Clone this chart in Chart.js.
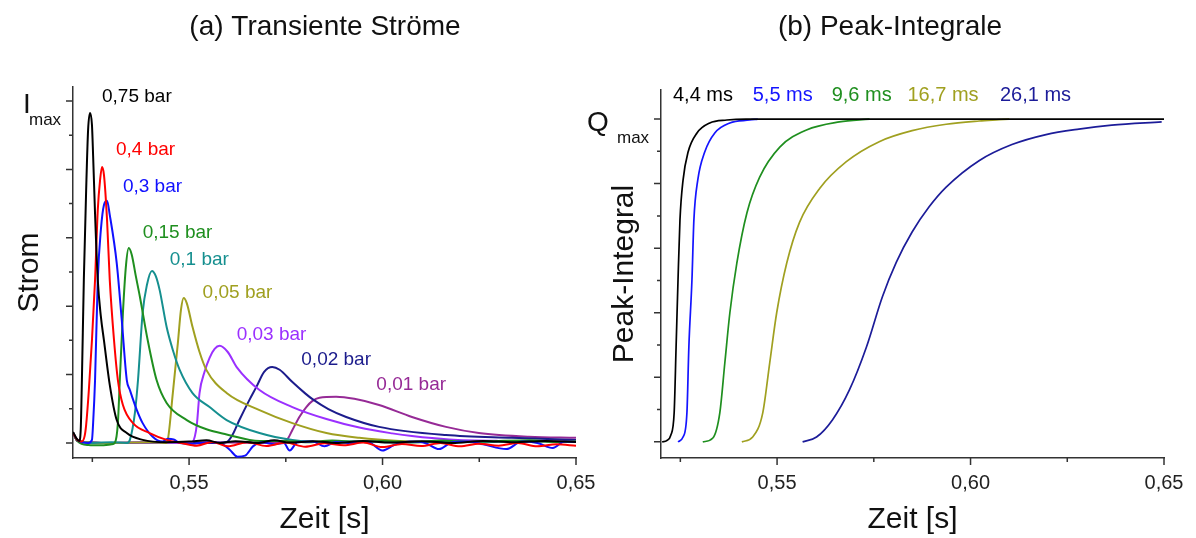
<!DOCTYPE html>
<html lang="de">
<head>
<meta charset="UTF-8">
<title>Transiente Ströme / Peak-Integrale</title>
<script src="https://cdn.jsdelivr.net/npm/chart.js"></script>
<style>
  body { margin: 0; background: #fff; }
  #wrap { position: relative; width: 1196px; height: 538px; overflow: hidden; }
  .box { position: absolute; top: 0; height: 538px; }
  #left { left: 0; width: 608px; }
  #right { left: 575px; width: 621px; }
</style>
</head>
<body>
<div id="wrap">
  <div class="box" id="left"><canvas id="stromChart"></canvas></div>
  <div class="box" id="right"><canvas id="integralChart"></canvas></div>
</div>
<script>
const FONT = '"Liberation Sans", Arial, sans-serif';

// axis ticks
const xLabelTicks = [0.55, 0.60, 0.65];
const xMinorTicks = [0.525, 0.575, 0.625];
const yMajorTicks = [0, 0.2, 0.4, 0.6, 0.8, 1.0];
const yMinorTicks = [0.1, 0.3, 0.5, 0.7, 0.9];

// (a) transient currents, [time s, I/Imax]
const i075 = [[0.5200,0.032],[0.5210,0.012],[0.5216,0.006],[0.5220,0.04],[0.5223,0.184],[0.5228,0.477],[0.5234,0.74],[0.5239,0.915],[0.5244,0.965],[0.5249,0.93],[0.5252,0.84],[0.5257,0.67],[0.5264,0.477],[0.5272,0.37],[0.5280,0.30],[0.5295,0.17],[0.5313,0.067],[0.5339,0.029],[0.5380,0.009],[0.5440,0.002],[0.5500,0.004],[0.5545,0.008],[0.5580,0.0],[0.5620,0.005],[0.5680,0.0],[0.5720,0.008],[0.5760,0.001],[0.5820,0.005],[0.5880,0.0],[0.5950,0.006],[0.6020,0.001],[0.6100,0.005],[0.6180,0.0],[0.6260,0.006],[0.6340,0.002],[0.6420,0.006],[0.6500,0.003]];
const i04 = [[0.5200,0.03],[0.5210,0.01],[0.5222,0.004],[0.5230,0.02],[0.5234,0.053],[0.5241,0.155],[0.5249,0.301],[0.5257,0.477],[0.5264,0.681],[0.5270,0.769],[0.5275,0.807],[0.5280,0.784],[0.5288,0.652],[0.5295,0.477],[0.5306,0.301],[0.5316,0.184],[0.5329,0.111],[0.5355,0.058],[0.5398,0.029],[0.5442,0.009],[0.5480,0.0],[0.5520,-0.008],[0.5560,0.003],[0.5600,-0.010],[0.5650,0.002],[0.5700,-0.009],[0.5750,0.001],[0.5800,-0.011],[0.5850,-0.001],[0.5900,-0.007],[0.5950,0.001],[0.6000,-0.012],[0.6050,-0.003],[0.6100,-0.009],[0.6150,0.0],[0.6200,-0.010],[0.6250,-0.002],[0.6300,-0.008],[0.6350,0.0],[0.6400,-0.010],[0.6450,-0.004],[0.6500,-0.008]];
const i03 = [[0.5200,0.03],[0.5210,0.01],[0.5225,0.002],[0.5240,0.0],[0.5249,0.009],[0.5252,0.058],[0.5257,0.184],[0.5264,0.477],[0.5272,0.623],[0.5280,0.696],[0.5288,0.708],[0.5295,0.667],[0.5313,0.526],[0.5326,0.36],[0.5339,0.184],[0.5347,0.155],[0.5365,0.096],[0.5380,0.058],[0.5406,0.018],[0.5430,0.004],[0.5445,0.012],[0.5460,0.010],[0.5476,0.0],[0.5510,-0.002],[0.5550,0.002],[0.5580,0.0],[0.5605,-0.02],[0.5625,-0.04],[0.5645,-0.037],[0.5665,-0.01],[0.5690,0.002],[0.5720,-0.004],[0.5745,0.0],[0.5760,-0.022],[0.5780,0.002],[0.5820,0.004],[0.5850,-0.010],[0.5880,0.003],[0.5920,0.0],[0.5960,0.004],[0.6000,-0.022],[0.6030,-0.006],[0.6070,0.004],[0.6110,0.0],[0.6146,-0.018],[0.6180,0.002],[0.6220,0.004],[0.6260,-0.004],[0.6320,-0.018],[0.6360,0.004],[0.6400,0.0],[0.6440,-0.015],[0.6470,0.004],[0.6500,0.003]];
const i015 = [[0.5200,0.03],[0.5212,0.005],[0.5240,-0.006],[0.5270,-0.007],[0.5300,-0.004],[0.5308,0.0],[0.5316,0.058],[0.5321,0.184],[0.5329,0.38],[0.5337,0.52],[0.5344,0.57],[0.5352,0.55],[0.5362,0.49],[0.5373,0.427],[0.5393,0.301],[0.5416,0.184],[0.5442,0.117],[0.5494,0.067],[0.5545,0.04],[0.5597,0.025],[0.5682,0.006],[0.5750,0.006],[0.5800,0.002],[0.5870,0.007],[0.5940,0.003],[0.6000,0.006],[0.6080,0.002],[0.6150,0.007],[0.6230,0.003],[0.6300,0.006],[0.6380,0.008],[0.6450,0.003],[0.6500,0.005]];
const i01 = [[0.5200,0.03],[0.5212,0.006],[0.5250,0.0],[0.5300,0.002],[0.5340,0.0],[0.5347,0.009],[0.5360,0.088],[0.5368,0.184],[0.5380,0.38],[0.5391,0.462],[0.5404,0.503],[0.5414,0.488],[0.5424,0.447],[0.5442,0.339],[0.5458,0.272],[0.5476,0.213],[0.5509,0.146],[0.5553,0.105],[0.5597,0.067],[0.5682,0.029],[0.5767,0.009],[0.5860,0.003],[0.5950,0.005],[0.6050,0.001],[0.6150,0.005],[0.6250,0.002],[0.6350,0.005],[0.6500,0.003]];
const i005 = [[0.5200,0.03],[0.5212,0.006],[0.5300,0.0],[0.5400,0.002],[0.5440,0.0],[0.5445,0.009],[0.5458,0.146],[0.5471,0.292],[0.5479,0.389],[0.5486,0.424],[0.5494,0.409],[0.5509,0.339],[0.5527,0.266],[0.5545,0.213],[0.5597,0.146],[0.5682,0.096],[0.5767,0.058],[0.5855,0.029],[0.5940,0.015],[0.6043,0.006],[0.6146,0.003],[0.6300,0.004],[0.6500,0.003]];
const i003 = [[0.5200,0.028],[0.5212,0.006],[0.5300,0.0],[0.5400,0.002],[0.5500,0.0],[0.5509,0.003],[0.5520,0.053],[0.5527,0.146],[0.5540,0.208],[0.5553,0.249],[0.5566,0.275],[0.5579,0.284],[0.5600,0.266],[0.5623,0.222],[0.5682,0.155],[0.5767,0.105],[0.5855,0.07],[0.5940,0.045],[0.6025,0.028],[0.6076,0.02],[0.6172,0.01],[0.6300,0.006],[0.6500,0.005]];
const i002 = [[0.5200,0.03],[0.5212,0.006],[0.5300,0.0],[0.5450,0.002],[0.5550,0.0],[0.5597,0.003],[0.5612,0.023],[0.5630,0.067],[0.5656,0.126],[0.5674,0.164],[0.5694,0.208],[0.5715,0.222],[0.5734,0.214],[0.5767,0.178],[0.5800,0.145],[0.5819,0.128],[0.5860,0.099],[0.5906,0.076],[0.5991,0.047],[0.6164,0.023],[0.6334,0.015],[0.6500,0.009]];
const i001 = [[0.5200,0.03],[0.5212,0.006],[0.5300,0.0],[0.5500,0.002],[0.5700,0.0],[0.5752,0.009],[0.5767,0.038],[0.5785,0.076],[0.5803,0.105],[0.5819,0.123],[0.5837,0.132],[0.5880,0.135],[0.5927,0.129],[0.5991,0.111],[0.6076,0.076],[0.6164,0.047],[0.6249,0.029],[0.6378,0.018],[0.6500,0.015]];

const pressureLabels = ['0,75 bar', '0,4 bar', '0,3 bar', '0,15 bar', '0,1 bar', '0,05 bar', '0,03 bar', '0,02 bar', '0,01 bar'];
const pressureColors = ['#000000', '#ff0000', '#1010ff', '#1f8f1f', '#158f8f', '#a0a020', '#9b30ff', '#1c1c8c', '#962a96'];
const pressureLabelX = [0.5275, 0.5311, 0.5329, 0.5380, 0.5450, 0.5535, 0.5623, 0.5790, 0.5984];
const pressureLabelY = [1.012, 0.857, 0.749, 0.614, 0.535, 0.439, 0.316, 0.243, 0.170];

// (b) peak integrals, [time s, Q/Qmax]
const q44 = [[0.5203,0.0],[0.5215,0.004],[0.5225,0.02],[0.5234,0.09],[0.5239,0.294],[0.5244,0.502],[0.5249,0.687],[0.5257,0.811],[0.5270,0.898],[0.5293,0.957],[0.5326,0.988],[0.5370,0.997],[0.5420,1.0],[0.6500,1.0]];
const q55 = [[0.5244,0.0],[0.5257,0.015],[0.5267,0.09],[0.5272,0.294],[0.5280,0.502],[0.5285,0.687],[0.5295,0.811],[0.5313,0.898],[0.5339,0.957],[0.5378,0.988],[0.5429,0.997],[0.5450,1.0]];
const q96 = [[0.5308,0.0],[0.5334,0.012],[0.5352,0.09],[0.5365,0.245],[0.5378,0.4],[0.5396,0.554],[0.5422,0.709],[0.5455,0.82],[0.5507,0.913],[0.5576,0.966],[0.5661,0.991],[0.5739,1.0]];
const q167 = [[0.5409,0.0],[0.5437,0.015],[0.5463,0.09],[0.5481,0.245],[0.5499,0.4],[0.5525,0.554],[0.5558,0.68],[0.5610,0.785],[0.5679,0.868],[0.5764,0.93],[0.5849,0.964],[0.5937,0.984],[0.6022,0.994],[0.6074,0.998],[0.6100,1.0]];
const q261 = [[0.5566,0.0],[0.5602,0.015],[0.5643,0.068],[0.5687,0.161],[0.5731,0.294],[0.5772,0.449],[0.5808,0.556],[0.5849,0.65],[0.5893,0.728],[0.5937,0.789],[0.6022,0.871],[0.6107,0.921],[0.6195,0.952],[0.6280,0.969],[0.6365,0.981],[0.6494,0.991]];

const timeLabels = ['4,4 ms', '5,5 ms', '9,6 ms', '16,7 ms', '26,1 ms'];
const timeColors = ['#000000', '#1414ff', '#1f8f1f', '#a0a020', '#1c1c99'];
const timeLabelX = [0.5231, 0.5437, 0.5641, 0.5837, 0.6076];
const timeLabelY = 1.074;

Chart.defaults.font.family = FONT;
Chart.defaults.color = '#222';

function makeDecor(s) {
  return {
    id: 'decor',
    afterDraw(chart) {
      const {ctx, chartArea: a, scales: {x, y}} = chart;
      ctx.save();
      ctx.strokeStyle = '#333';
      ctx.lineWidth = 1.5;
      ctx.beginPath();
      const tickX = (v, len) => { const p = x.getPixelForValue(v); ctx.moveTo(p, a.bottom); ctx.lineTo(p, a.bottom + len); };
      const tickY = (v, len) => { const p = y.getPixelForValue(v); ctx.moveTo(a.left, p); ctx.lineTo(a.left - len, p); };
      xLabelTicks.forEach(v => tickX(v, 7));
      xMinorTicks.forEach(v => tickX(v, 4));
      yMajorTicks.forEach(v => tickY(v, 7));
      yMinorTicks.forEach(v => tickY(v, 4));
      ctx.stroke();

      ctx.fillStyle = '#111';
      ctx.font = '28px ' + FONT;
      ctx.textAlign = 'center';
      ctx.textBaseline = 'middle';
      ctx.fillText(s.title, s.titleX, 27);

      const p1 = y.getPixelForValue(1);
      ctx.textAlign = 'left';
      ctx.textBaseline = 'alphabetic';
      ctx.fillText(s.symbol, a.left - s.symbolOffset, p1 + 12);
      ctx.font = '17px ' + FONT;
      ctx.fillText('max', a.left - 44, p1 + 24);

      ctx.font = s.noteSize + 'px ' + FONT;
      ctx.textBaseline = 'middle';
      s.texts.forEach((t, i) => {
        ctx.fillStyle = s.colors[i];
        ctx.fillText(t, x.getPixelForValue(s.xs[i]), y.getPixelForValue(s.ys[i]));
      });
      ctx.restore();
    }
  };
}

function makeChart(id, datasets, c, decor) {
  return new Chart(document.getElementById(id), {
    type: 'line',
    data: { datasets: datasets },
    options: {
      responsive: true,
      maintainAspectRatio: false,
      animation: false,
      layout: { padding: { top: c.top, right: c.right, left: 0, bottom: 0 } },
      plugins: { legend: { display: false }, tooltip: { enabled: false } },
      elements: {
        point: { radius: 0 },
        line: { cubicInterpolationMode: 'monotone', borderWidth: c.lineWidth }
      },
      scales: {
        x: {
          type: 'linear',
          min: 0.52,
          max: 0.65,
          grid: { display: false },
          border: { display: true, color: '#333', width: 1.5 },
          afterBuildTicks: s => { s.ticks = xLabelTicks.map(v => ({ value: v })); },
          afterFit: s => { s.height = 80; },
          ticks: {
            padding: 5,
            color: '#222',
            font: { size: 20 },
            callback: v => v.toFixed(2).replace('.', ',')
          },
          title: { display: true, text: 'Zeit [s]', color: '#111', font: { size: 30 }, padding: 0 }
        },
        y: {
          min: c.yMin,
          max: c.yMax,
          grid: { display: false },
          border: { display: true, color: '#333', width: 1.5 },
          ticks: { display: false },
          afterFit: s => { s.width = c.axisWidth; },
          title: { display: true, text: c.yTitle, color: '#111', font: { size: 30 }, padding: { top: c.titlePad, bottom: 0 } }
        }
      }
    },
    plugins: [decor]
  });
}

const currentSeries = [i075, i04, i03, i015, i01, i005, i003, i002, i001];
makeChart('stromChart',
  currentSeries.map((d, i) => ({ label: pressureLabels[i], data: d, borderColor: pressureColors[i] })),
  { top: 87, right: 32, yMin: -0.044, yMax: 1.041, axisWidth: 73, yTitle: 'Strom', titlePad: 12, lineWidth: 2 },
  makeDecor({ title: '(a) Transiente Ströme', titleX: 325, symbol: 'I', symbolOffset: 50, noteSize: 19,
              texts: pressureLabels, colors: pressureColors, xs: pressureLabelX, ys: pressureLabelY }));

const integralSeries = [q44, q55, q96, q167, q261];
makeChart('integralChart',
  integralSeries.map((d, i) => ({ label: timeLabels[i], data: d, borderColor: timeColors[i] })),
  { top: 90, right: 32, yMin: -0.05, yMax: 1.09, axisWidth: 86, yTitle: 'Peak-Integral', titlePad: 32, lineWidth: 1.7 },
  makeDecor({ title: '(b) Peak-Integrale', titleX: 315, symbol: 'Q', symbolOffset: 74, noteSize: 20,
              texts: timeLabels, colors: timeColors, xs: timeLabelX, ys: timeLabelX.map(() => timeLabelY) }));
</script>
</body>
</html>
